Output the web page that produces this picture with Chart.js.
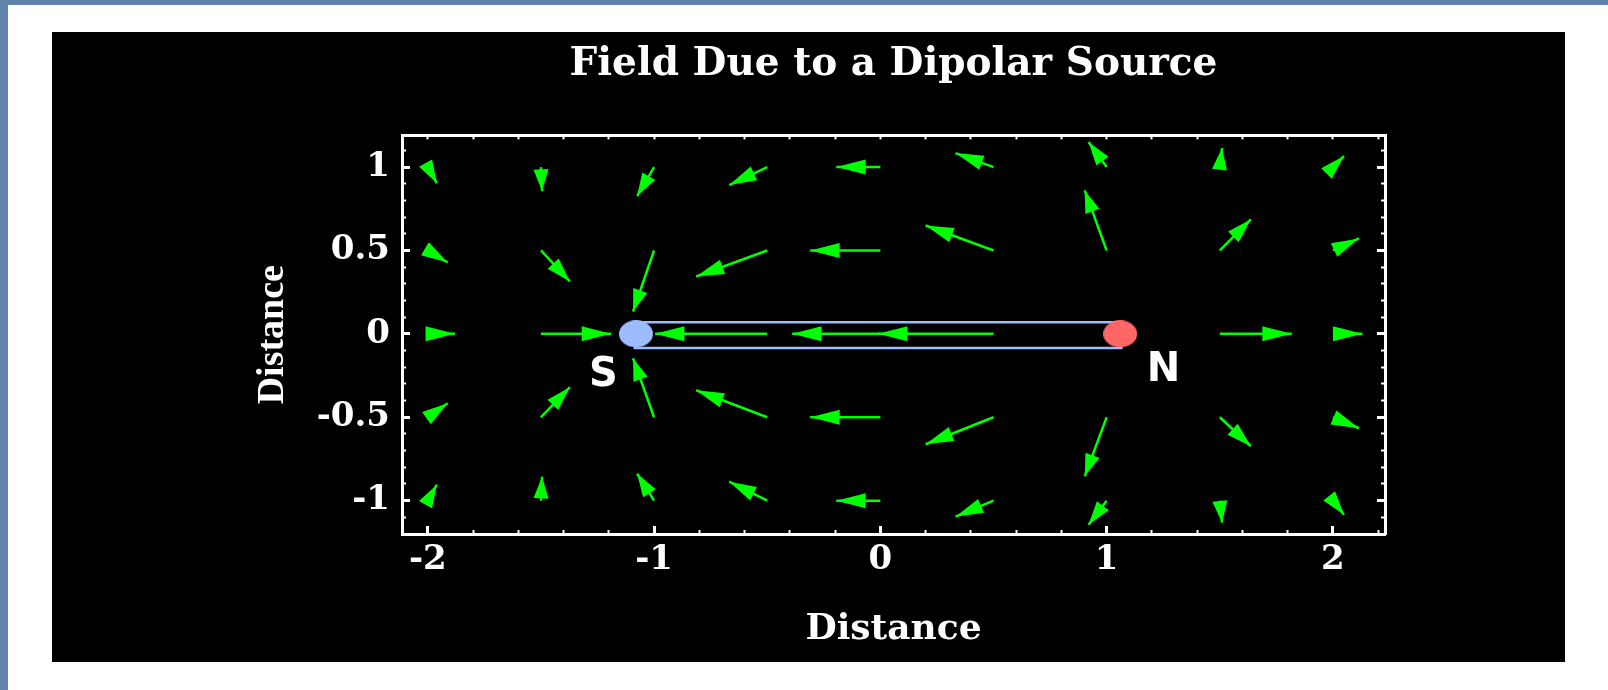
<!DOCTYPE html>
<html><head><meta charset="utf-8">
<script src="https://cdn.jsdelivr.net/npm/chart.js@4/dist/chart.umd.min.js"></script>
<style>
html,body{margin:0;padding:0;width:1608px;height:690px;overflow:hidden;background:#6183ab;}
#white{position:absolute;left:8px;top:5px;width:1600px;height:685px;background:#ffffff;}
#panel{position:absolute;left:52px;top:32px;width:1513px;height:630px;background:#000000;}
canvas{display:block;}
</style></head><body>
<div id="white"></div>
<div id="panel"><canvas id="c" width="1513" height="630"></canvas></div>
<script>
// ---- text ----
const titleText = 'Field Due to a Dipolar Source';
const xTitle = 'Distance';
const yTitle = 'Distance';
// ---- ticks ----
const xTickValues = [-2, -1, 0, 1, 2];
const xTickLabels = ['-2', '-1', '0', '1', '2'];
const yTickValues = [1, 0.5, 0, -0.5, -1];
const yTickLabels = ['1', '0.5', '0', '-0.5', '-1'];
const xRange = [-2.114, 2.23];
const yRange = [-1.2, 1.19];
// ---- vector field: arrow tails on the grid, tip offsets (data units) ----
const gridX = [-2, -1.5, -1, -0.5, 0, 0.5, 1, 1.5, 2];
const gridY = [1, 0.5, 0, -0.5, -1];
const fieldU = [
  [0.040, 0.005, -0.075, -0.168, -0.195, -0.168, -0.080, 0.010, 0.049],
  [0.088, 0.128, -0.093, -0.314, -0.310, -0.300, -0.097, 0.137, 0.115],
  [0.120, 0.310, null, -0.496, -0.390, -0.510, null, 0.318, 0.130],
  [0.088, 0.128, -0.093, -0.314, -0.310, -0.300, -0.097, 0.137, 0.115],
  [0.040, 0.005, -0.075, -0.168, -0.195, -0.168, -0.080, 0.010, 0.049]
];
const fieldV = [
  [-0.096, -0.144, -0.174, -0.108, 0, 0.084, 0.150, 0.114, 0.066],
  [-0.072, -0.186, -0.366, -0.156, 0, 0.150, 0.360, 0.186, 0.072],
  [0, 0, null, 0, 0, 0, null, 0, 0],
  [0.084, 0.180, 0.354, 0.162, 0, -0.162, -0.354, -0.174, -0.066],
  [0.096, 0.144, 0.162, 0.114, 0, -0.096, -0.144, -0.132, -0.084]
];
// ---- magnet ----
const poleNames = ['S', 'N'];
const poleX = [-1.08, 1.06];
const poleY = [0, 0];
const poleColors = ['#9dbbff', '#ff6666'];
const labelX = [-1.224, 1.251];
const labelY = [-0.249, -0.219];
const magnetX = [-1.085, 1.065];
const magnetY = [0.07, -0.085];

const GREEN = '#00ff00';
const HEAD_LEN = 0.13;     // data units along the arrow
const HEAD_HALF_PX = 7.5;  // half width in pixels
const WHITE = '#ffffff';

function ellipseImg(color) {
  const c = document.createElement('canvas');
  c.width = 34; c.height = 27;
  const g = c.getContext('2d');
  g.fillStyle = color;
  g.beginPath(); g.ellipse(17, 13.5, 17, 13.5, 0, 0, Math.PI * 2); g.fill();
  return c;
}

const datasets = [];
poleX.forEach((px, i) => {
  datasets.push({
    type: 'scatter', data: [{x: px, y: poleY[i]}], order: 0,
    pointStyle: ellipseImg(poleColors[i]), pointRadius: 15,
    backgroundColor: poleColors[i], borderColor: poleColors[i]
  });
});
datasets.push({
  type: 'line', order: 1, showLine: true, fill: false,
  data: [
    {x: magnetX[0], y: magnetY[0]}, {x: magnetX[1], y: magnetY[0]},
    {x: magnetX[1], y: magnetY[1]}, {x: magnetX[0], y: magnetY[1]},
    {x: magnetX[0], y: magnetY[0]}
  ],
  borderColor: '#9dbbff', borderWidth: 2.5, pointRadius: 0, tension: 0
});
gridY.forEach((gy, r) => {
  gridX.forEach((gx, c) => {
    const u = fieldU[r][c], v = fieldV[r][c];
    if (u === null || v === null) return;
    datasets.push({
      type: 'line', order: 2, isArrow: true, showLine: true, fill: false,
      data: [{x: gx, y: gy}, {x: gx + u, y: gy + v}],
      borderColor: GREEN, borderWidth: 2.5, pointRadius: 0, tension: 0
    });
  });
});

const arrowPlugin = {
  id: 'arrowHeads',
  afterDatasetDraw(chart, args) {
    const ds = chart.data.datasets[args.index];
    if (!ds.isArrow) return;
    const xs = chart.scales.x, ys = chart.scales.y, ctx = chart.ctx;
    const p0 = ds.data[0], p1 = ds.data[1];
    const dx = p1.x - p0.x, dy = p1.y - p0.y, L = Math.hypot(dx, dy);
    if (L === 0) return;
    const ux = dx / L, uy = dy / L;
    const bx = p1.x - ux * HEAD_LEN, by = p1.y - uy * HEAD_LEN;
    const tX = xs.getPixelForValue(p1.x), tY = ys.getPixelForValue(p1.y);
    const bX = xs.getPixelForValue(bx), bY = ys.getPixelForValue(by);
    const ddx = tX - bX, ddy = tY - bY, dl = Math.hypot(ddx, ddy);
    const nX = -ddy / dl * HEAD_HALF_PX, nY = ddx / dl * HEAD_HALF_PX;
    ctx.save();
    ctx.fillStyle = GREEN;
    ctx.beginPath();
    ctx.moveTo(tX, tY);
    ctx.lineTo(bX + nX, bY + nY);
    ctx.lineTo(bX - nX, bY - nY);
    ctx.closePath();
    ctx.fill();
    ctx.restore();
  },
  afterDatasetsDraw(chart) {
    const xs = chart.scales.x, ys = chart.scales.y, ctx = chart.ctx;
    ctx.save();
    ctx.fillStyle = WHITE;
    ctx.font = 'bold 40px "DejaVu Sans"';
    ctx.textAlign = 'center';
    ctx.textBaseline = 'middle';
    poleNames.forEach((t, i) => {
      ctx.fillText(t, xs.getPixelForValue(labelX[i]), ys.getPixelForValue(labelY[i]));
    });
    ctx.restore();
  }
};

function minorTicks(from, to, step) {
  const out = [];
  const n = Math.round((to - from) / step);
  for (let i = 0; i <= n; i++) out.push({value: +(from + i * step).toFixed(4)});
  return out;
}

const tickFont = {family: 'DejaVu Serif', weight: 'bold', size: 34, lineHeight: 1.2};
function frameScale(axis, position, range, extra) {
  return Object.assign({
    type: 'linear', axis: axis, position: position, min: range[0], max: range[1],
    ticks: {display: false, autoSkip: false},
    grid: {drawOnChartArea: false, drawTicks: true, tickLength: -4, tickWidth: 2, tickColor: WHITE},
    border: {display: false}
  }, extra);
}

new Chart(document.getElementById('c'), {
  data: {datasets: datasets},
  plugins: [arrowPlugin],
  options: {
    responsive: false, animation: false, devicePixelRatio: 1,
    layout: {padding: {left: 0, right: 180, top: 0, bottom: 0}},
    plugins: {
      legend: {display: false},
      tooltip: {enabled: false},
      title: {
        display: true, text: titleText, color: WHITE, fullSize: false,
        font: {family: 'DejaVu Serif', weight: 'bold', size: 39, lineHeight: 1.2},
        padding: {top: 9, bottom: 47.6}
      }
    },
    scales: {
      x: {
        type: 'linear', position: 'bottom', min: xRange[0], max: xRange[1], weight: 1,
        afterBuildTicks: s => { s.ticks = xTickValues.map(v => ({value: v})); },
        afterFit: s => { s.height = 128; },
        ticks: {callback: (v, i) => xTickLabels[i], color: WHITE, font: tickFont, padding: 14, maxRotation: 0, autoSkip: false},
        grid: {drawOnChartArea: false, drawTicks: true, tickLength: -8, tickWidth: 3, tickColor: WHITE},
        border: {display: true, color: WHITE, width: 3},
        title: {display: true, text: xTitle, color: WHITE,
          font: {family: 'DejaVu Serif', weight: 'bold', size: 36, lineHeight: 1.2}, padding: {top: 0, bottom: 11}}
      },
      xMinor: frameScale('x', 'bottom', xRange, {
        weight: 0,
        afterBuildTicks: s => { s.ticks = minorTicks(-2, 2.2, 0.2); },
        afterFit: s => { s.height = 0; }
      }),
      xTop: frameScale('x', 'top', xRange, {
        weight: 0,
        afterBuildTicks: s => { s.ticks = minorTicks(-2, 2.2, 0.2); },
        afterFit: s => { s.height = 0; },
        border: {display: true, color: WHITE, width: 3}
      }),
      y: {
        type: 'linear', position: 'left', min: yRange[0], max: yRange[1], weight: 1,
        afterBuildTicks: s => { s.ticks = yTickValues.map(v => ({value: v})); },
        afterFit: s => { s.width = 350; },
        ticks: {callback: (v, i) => yTickLabels[i], color: WHITE, font: tickFont, padding: 20, autoSkip: false},
        grid: {drawOnChartArea: false, drawTicks: true, tickLength: -8, tickWidth: 3, tickColor: WHITE},
        border: {display: true, color: WHITE, width: 3},
        title: {display: true, text: yTitle, color: WHITE,
          font: {family: 'Liberation Serif', weight: 'bold', size: 38, lineHeight: 1.2}, padding: {top: 198, bottom: 0}}
      },
      yMinor: frameScale('y', 'left', yRange, {
        weight: 0,
        afterBuildTicks: s => { s.ticks = minorTicks(-1.1, 1.1, 0.1); },
        afterFit: s => { s.width = 0; }
      }),
      yRight: frameScale('y', 'right', yRange, {
        weight: 1,
        afterBuildTicks: s => { s.ticks = yTickValues.map(v => ({value: v})); },
        afterFit: s => { s.width = 0; },
        grid: {drawOnChartArea: false, drawTicks: true, tickLength: -8, tickWidth: 3, tickColor: WHITE},
        border: {display: true, color: WHITE, width: 3}
      }),
      yRightMinor: frameScale('y', 'right', yRange, {
        weight: 0,
        afterBuildTicks: s => { s.ticks = minorTicks(-1.1, 1.1, 0.1); },
        afterFit: s => { s.width = 0; }
      })
    }
  }
});
</script>
</body></html>
